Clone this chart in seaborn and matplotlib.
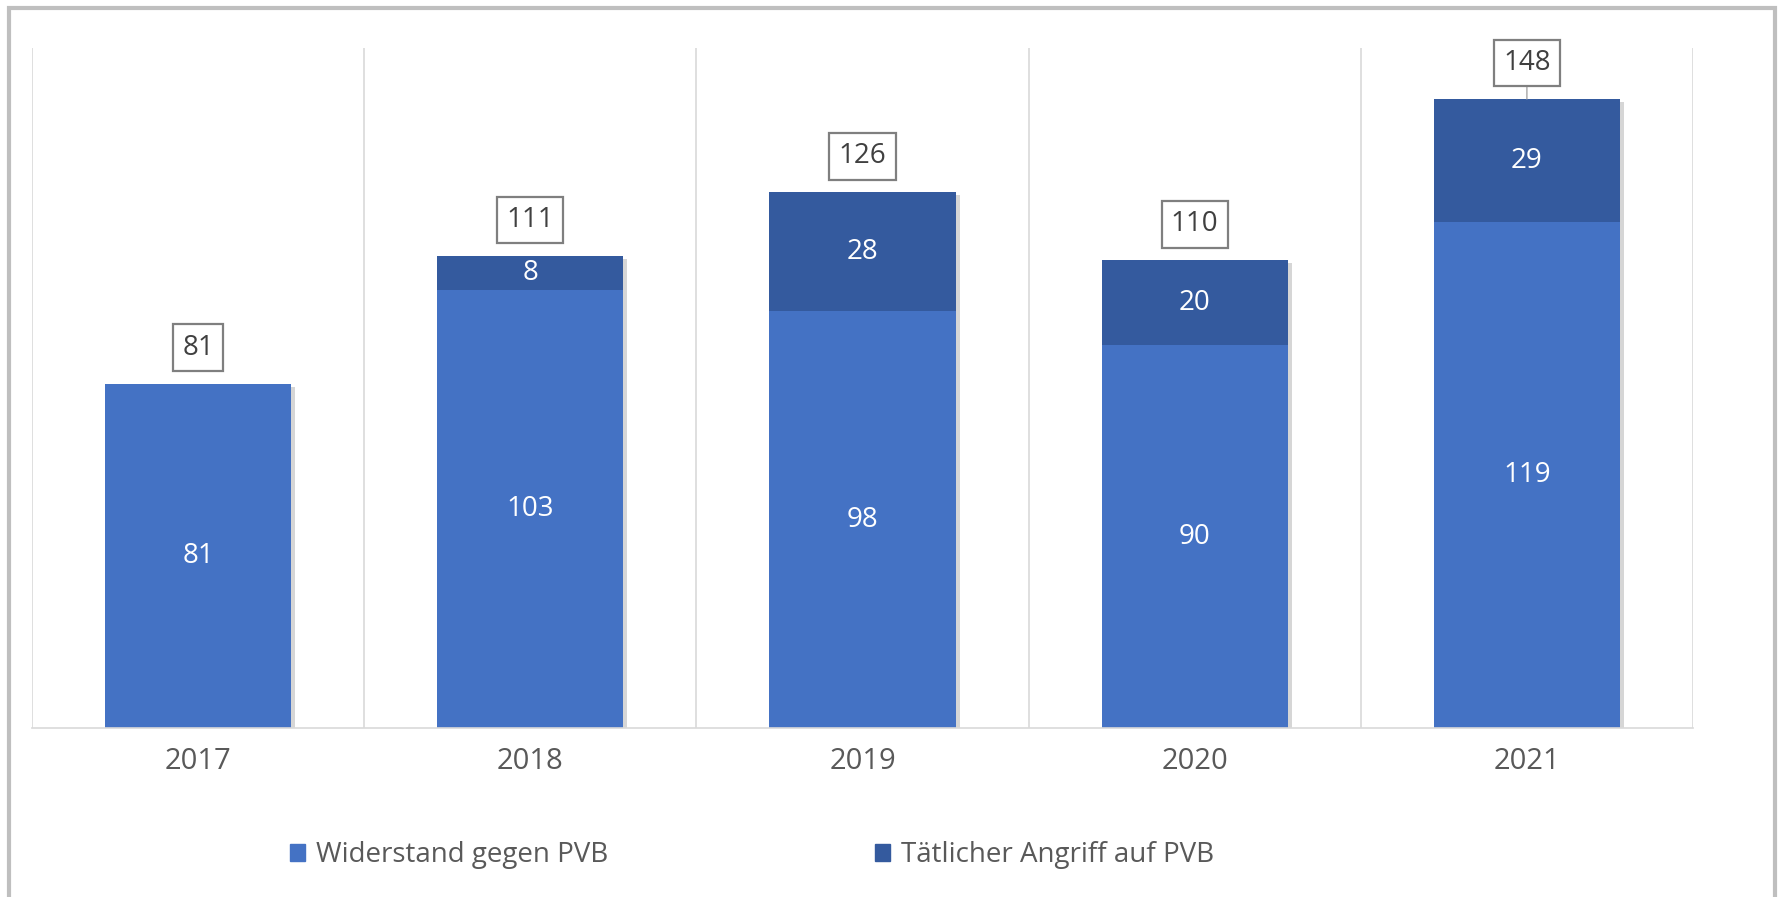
import numpy as np
import pandas as pd
import seaborn as sns
import matplotlib.pyplot as plt
import matplotlib.patheffects as pe
from matplotlib.patches import Patch, Rectangle

# Data
years = ["2017", "2018", "2019", "2020", "2021"]
widerstand = [81, 103, 98, 90, 119]
taetlich = [0, 8, 28, 20, 29]
totals = [w + t for w, t in zip(widerstand, taetlich)]

light_blue = "#4472C4"
dark_blue = "#345A9E"
grey_text = "#595959"

df = pd.DataFrame({"Jahr": years, "Widerstand": widerstand,
                   "Taetlich": taetlich, "Gesamt": totals})

sns.set_theme(style="white")
plt.rcParams['font.family'] = ['Open Sans', 'DejaVu Sans']

W, H = 1781, 897
fig = plt.figure(figsize=(W / 100, H / 100), dpi=100)
ax = fig.add_axes([32 / W, (H - 728) / H, (1693 - 32) / W, (728 - 48) / H])

# Stacked bars: totals in dark blue, lower segment in light blue on top
shadow = [pe.SimplePatchShadow(offset=(3, -2), shadow_rgbFace="#8c8c8c", alpha=0.35), pe.Normal()]
sns.barplot(data=df, x="Jahr", y="Gesamt", color=dark_blue, width=0.56,
            saturation=1, ax=ax, linewidth=0)
for p in ax.patches:
    p.set_path_effects(shadow)
sns.barplot(data=df, x="Jahr", y="Widerstand", color=light_blue, width=0.56,
            saturation=1, ax=ax, linewidth=0)

ax.set_xlim(-0.5, len(years) - 0.5)
ax.set_ylim(0, 160)
ax.set_xlabel("")
ax.set_ylabel("")
ax.set_yticks([])

# vertical gridlines between categories
for b in np.arange(-0.5, len(years), 1.0):
    ax.axvline(b, color="#D9D9D9", lw=1.2, zorder=0)

for s in ["top", "left", "right"]:
    ax.spines[s].set_visible(False)
ax.spines["bottom"].set_color("#D9D9D9")
ax.spines["bottom"].set_linewidth(1.2)
ax.tick_params(axis="x", length=0, pad=14, labelsize=21, labelcolor=grey_text)

# value labels inside segments
for i in range(len(years)):
    ax.text(i, widerstand[i] / 2, str(widerstand[i]), ha="center", va="center",
            color="white", fontsize=20)
    if taetlich[i] > 0:
        ax.text(i, widerstand[i] + taetlich[i] / 2, str(taetlich[i]), ha="center",
                va="center", color="white", fontsize=20)

# total labels in boxes
for i in range(len(years)):
    arrow = None
    if i == len(years) - 1:
        arrow = dict(arrowstyle="-", color="#A6A6A6", lw=1, shrinkA=0, shrinkB=0)
    ax.annotate(str(totals[i]), xy=(i, totals[i]), xytext=(0, 26),
                textcoords="offset points", ha="center", va="center",
                fontsize=20, color="#404040", arrowprops=arrow,
                bbox=dict(boxstyle="square,pad=0.33", fc="white", ec="#7F7F7F", lw=1.6))

# legend
handles = [Patch(color=light_blue, label="Widerstand gegen PVB"),
           Patch(color=dark_blue, label="Tätlicher Angriff auf PVB")]
fig.legend(handles=handles, loc="center", bbox_to_anchor=(752 / W, (H - 855) / H),
           ncol=2, frameon=False, fontsize=20, labelcolor=grey_text,
           handlelength=0.55, handleheight=0.55, handletextpad=0.4, columnspacing=9.6)

# outer grey border (bottom edge is cut off in the reference)
fig.add_artist(Rectangle((9 / W, -0.05), (1775 - 9) / W, (H - 8) / H + 0.05,
                         transform=fig.transFigure, fill=False, ec="#BFBFBF", lw=3))

plt.savefig("out.png", dpi=100)
